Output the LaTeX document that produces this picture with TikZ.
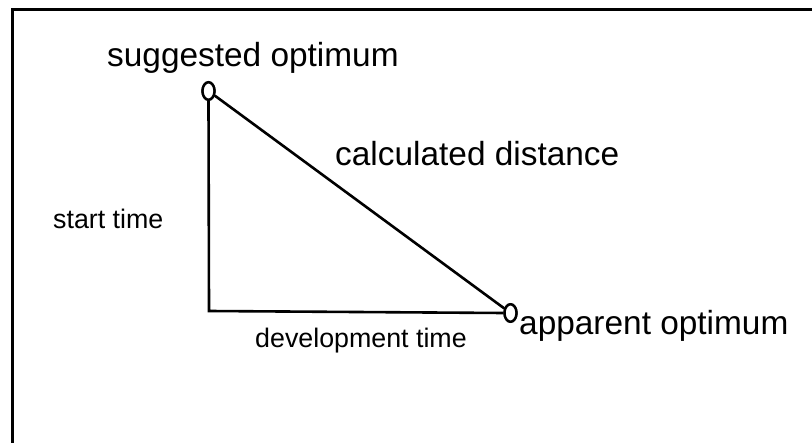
\documentclass[tikz,border=0pt]{standalone}
\usepackage{fontspec}
\setmainfont{Liberation Sans}
\usetikzlibrary{shapes.geometric}
\begin{document}
\begin{tikzpicture}[x=1bp,y=-1bp,
  frameline/.style={line width=3bp},
  edge/.style={line width=2.6bp},
  pt/.style={draw,line width=2.4bp,ellipse,minimum width=12bp,minimum height=17.5bp,inner sep=0pt,fill=white},
  big/.style={font=\fontsize{33.4bp}{40bp}\selectfont,inner sep=0pt,anchor=base west},
  small/.style={font=\fontsize{26.8bp}{32bp}\selectfont,inner sep=0pt,anchor=base west}]
\useasboundingbox (0,0) rectangle (812,443);
\coordinate (tl) at (12,10);
\coordinate (tr) at (814,10);
\coordinate (bl) at (12,445);
\draw[frameline] (tr) -- (tl) -- (bl);
\coordinate (corner) at (209,311);
\node[pt] (sug) at (208.5,91) {};
\node[pt] (app) at (510.5,313) {};
\draw[edge] (sug.south) -- (corner) -- (app.west);
\draw[edge] (sug) -- (app);
\node[pt] at (sug) {};
\node[pt] at (app) {};
\node[big] (t1) at (107,67) {suggested optimum};
\node[big] (t2) at (335,166) {calculated distance};
\node[big] (t3) at (519,335) {apparent optimum};
\node[small] (t4) at (53,229) {start time};
\node[small] (t5) at (255,348) {development time};
\end{tikzpicture}
\end{document}
